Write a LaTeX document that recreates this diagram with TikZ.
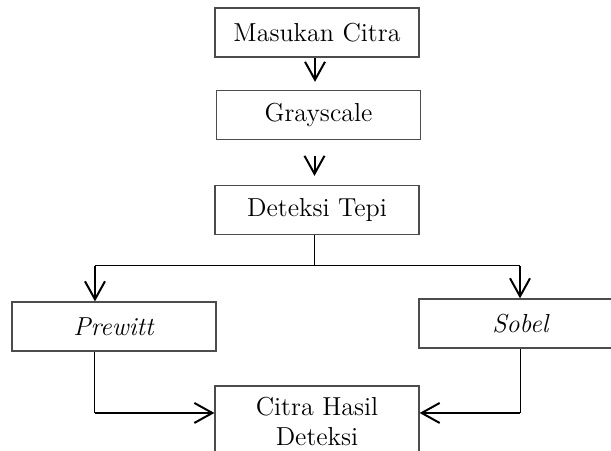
\documentclass[tikz,border=0pt]{standalone}
\usepackage{amsmath,amssymb}
\usetikzlibrary{arrows.meta}

\begin{document}
\begin{tikzpicture}[
  stepbox/.style={rectangle,draw=black!70,line width=0.6pt,minimum width=3.585cm,
    minimum height=0.861cm,inner sep=2pt,font=\fontsize{13}{15}\selectfont},
  flowarrow/.style={line width=1pt,-{Straight Barb[length=9pt,width=10pt,line width=1pt]}},
  thinline/.style={line width=0.5pt}]
  \useasboundingbox (0,0) rectangle (10.737,7.925);
  \clip (0,0) rectangle (10.737,7.925);
  \node[stepbox] (masukan) at (5.571,7.354) {Masukan Citra};
  \node[stepbox] (gray) at (5.597,5.905) {Grayscale};
  \node[stepbox] (deteksi) at (5.571,4.235) {Deteksi Tepi};
  \node[stepbox] (prewitt) at (2.003,2.188) {\textit{Prewitt}};
  \node[stepbox] (sobel) at (9.155,2.241) {\textit{Sobel}};
  \node[stepbox,minimum height=1.23cm,align=center] (hasil) at (5.571,0.527) {Citra Hasil\\Deteksi};
  \coordinate (split) at (5.535,3.251);
  \coordinate (pl) at (1.669,3.251);
  \coordinate (pr) at (9.138,3.251);
  \coordinate (ml) at (1.669,0.668);
  \coordinate (mr) at (9.138,0.668);
  \draw[flowarrow,shorten >=4pt] ([xshift=-1pt]masukan.south) -- ([xshift=-1pt]masukan.south |- gray.north);
  \draw[flowarrow,shorten <=8pt,shorten >=4.5pt] ([xshift=-2pt]gray.south) -- ([xshift=-2pt]gray.south |- deteksi.north);
  \draw[thinline] (deteksi.south -| split) -- (split);
  \draw[thinline] (pl) -- (pr);
  \draw[flowarrow] (pl) -- (pl |- prewitt.north);
  \draw[flowarrow] (pr) -- (pr |- sobel.north);
  \draw[thinline] (pl |- prewitt.south) -- (ml);
  \draw[thinline] (pr |- sobel.south) -- (mr);
  \draw[flowarrow] (ml) -- (ml -| hasil.west);
  \draw[flowarrow] (mr) -- (mr -| hasil.east);
\end{tikzpicture}
\end{document}
